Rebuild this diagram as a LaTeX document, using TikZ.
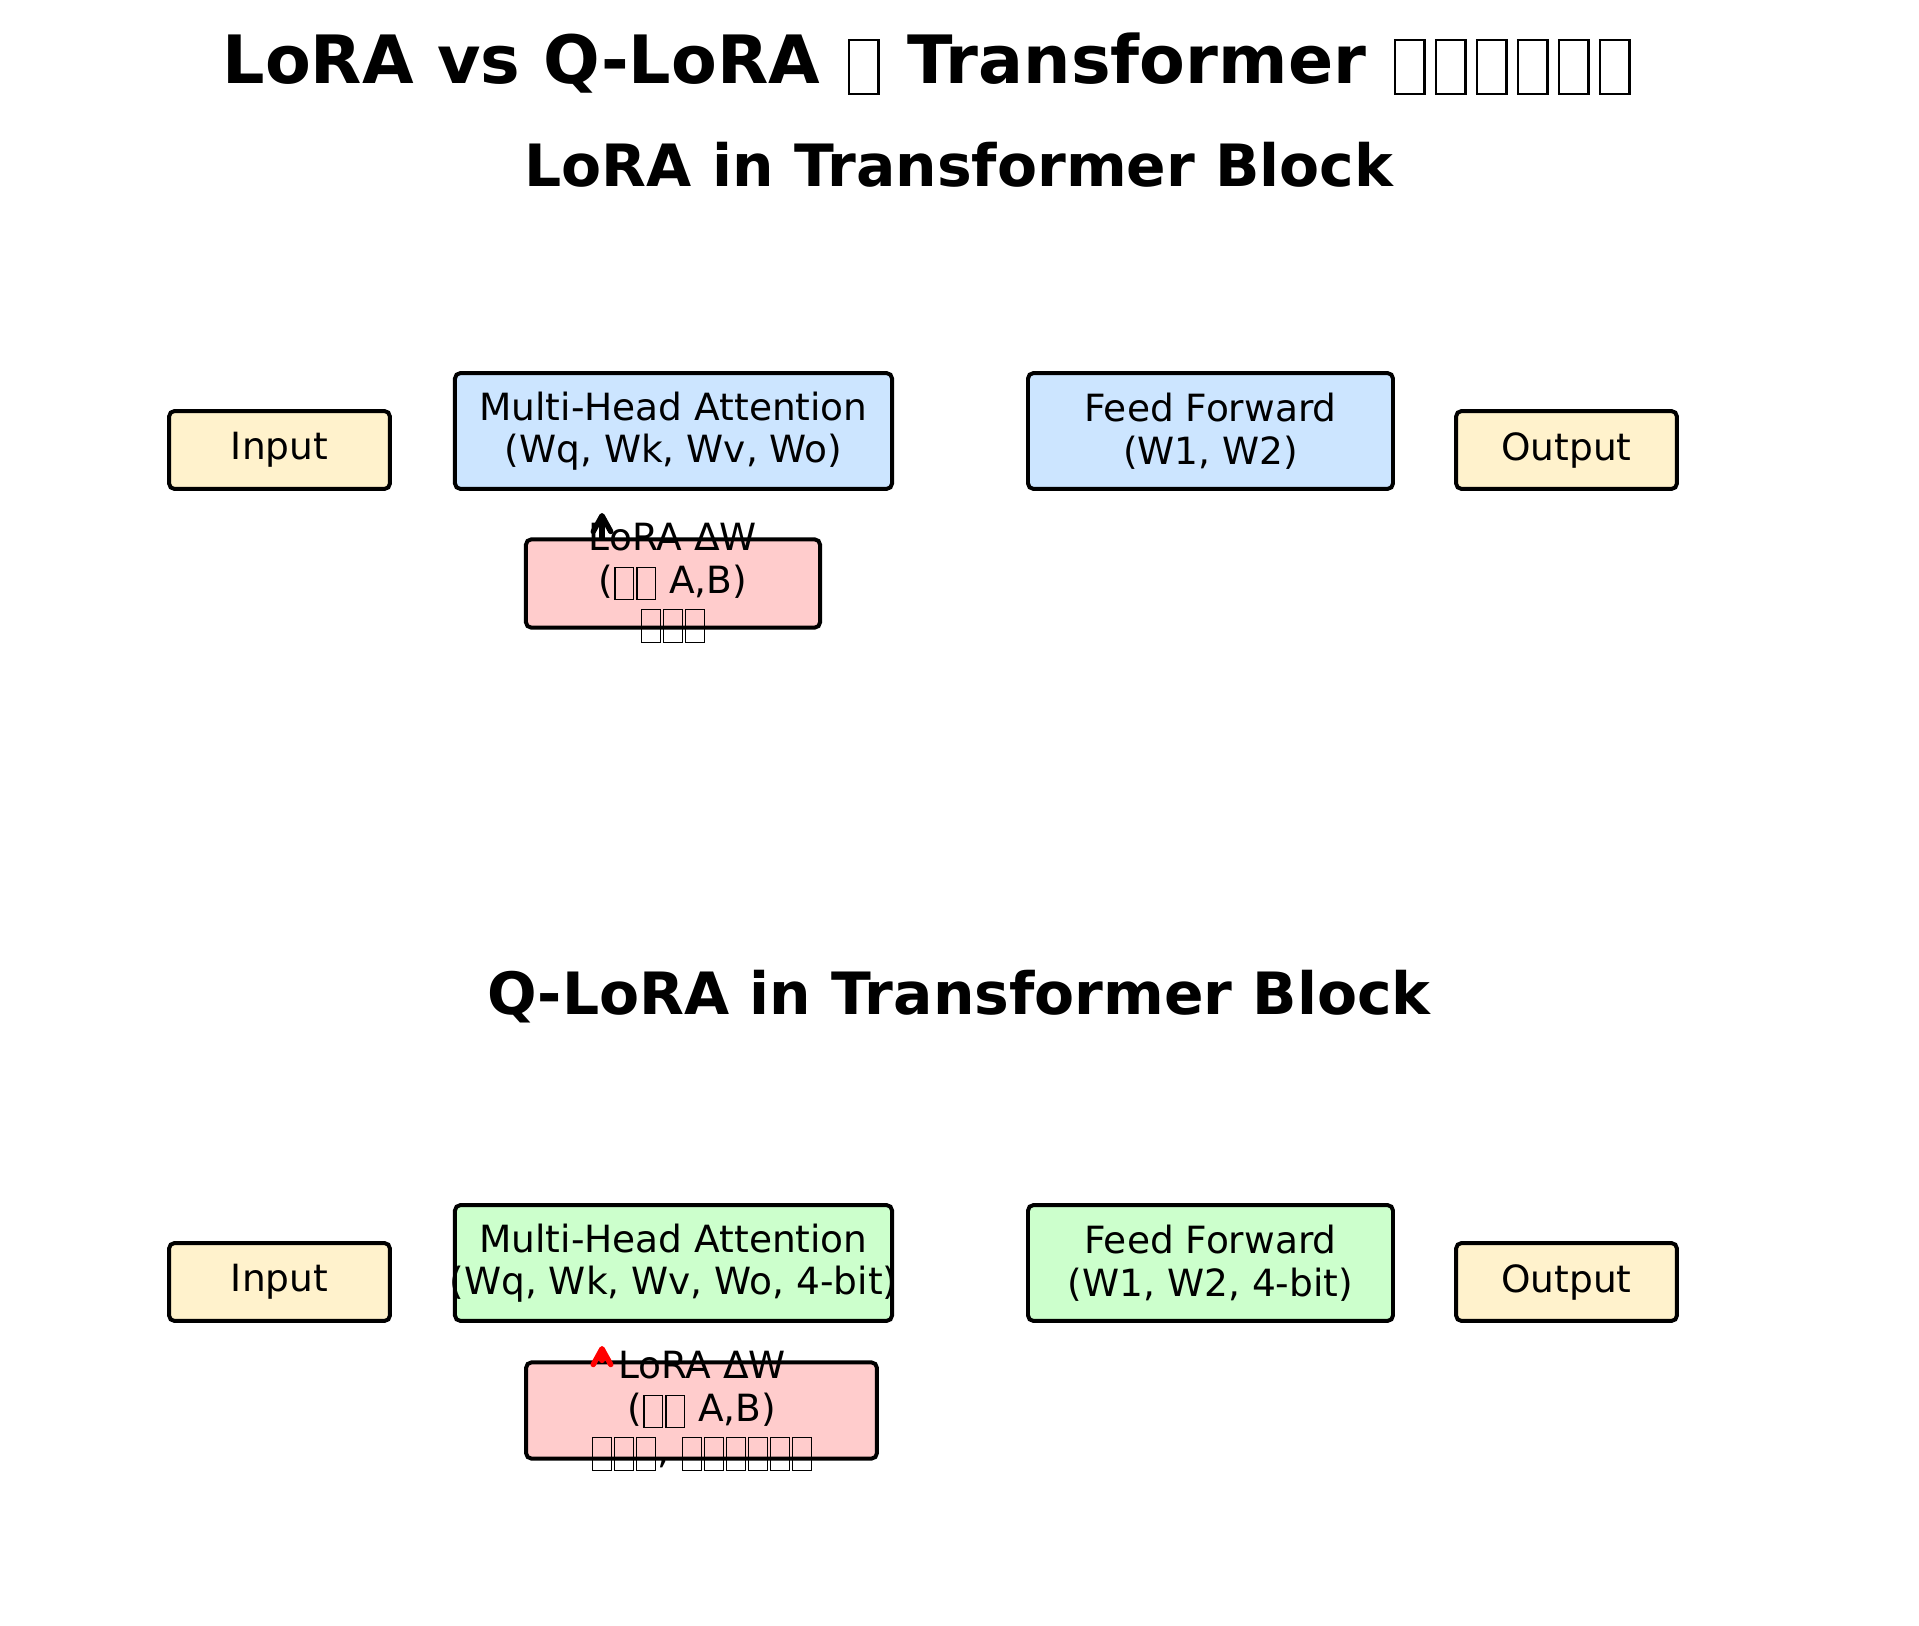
\documentclass[tikz,border=0pt]{standalone}
\usepackage{fontspec}
\setmainfont{DejaVu Sans}
\usetikzlibrary{arrows.meta}
% missing-glyph box as printed by the reference (regular weight)
\newcommand\tofu{{\setlength\fboxsep{0pt}\setlength\fboxrule{0.03em}\kern0.028em\raisebox{-0.16em}{\fbox{\rule{0pt}{0.83em}\hspace{0.47em}}}\kern0.028em}}
% missing-glyph box as printed by the reference (bold title)
\newcommand\tofub{{\setlength\fboxsep{0pt}\setlength\fboxrule{0.035em}\kern0.07em\raisebox{-0.14em}{\fbox{\rule{0pt}{0.77em}\hspace{0.405em}}}\kern0.07em}}
\definecolor{inyel}{HTML}{FFF2CC}
\definecolor{attblue}{HTML}{CCE5FF}
\definecolor{qgreen}{HTML}{CCFFCC}
\definecolor{lorapink}{HTML}{FFCCCC}
\tikzset{
  blk/.style={draw=black, line width=0.95pt, rounded corners=1.3pt, inner sep=0pt},
  iobox/.style={blk, fill=inyel, minimum width=53pt, minimum height=18.7pt},
  attbox/.style={blk, minimum width=104.9pt, minimum height=27.8pt},
  ffbox/.style={blk, minimum width=87.6pt, minimum height=27.8pt},
  lbl/.style={font=\fontsize{9pt}{10.2pt}\selectfont, align=center, inner sep=0pt},
  ttl/.style={font=\fontsize{16pt}{19pt}\selectfont\bfseries, inner sep=0pt},
  subttl/.style={font=\fontsize{14pt}{17pt}\selectfont\bfseries, inner sep=0pt},
  arr/.style={line width=1.3pt, line cap=round, -{Straight Barb[length=3.8pt, width=4.2pt, line cap=round, line join=round]}}
}
\begin{document}
\begin{tikzpicture}[x=0.24pt, y=-0.24pt]
\useasboundingbox (0,0) rectangle (1919,1626);
% titles
\node[ttl, anchor=base] (title) at (929,83.5) {LoRA vs Q-LoRA \tofub{} Transformer \tofub\tofub\tofub\tofub\tofub\tofub};
\node[subttl] (sub1) at (959,165) {LoRA in Transformer Block};
\node[subttl] (sub2) at (959,997) {Q-LoRA in Transformer Block};
% top block
\node[iobox] (in1) at (279.5,450) {};
\node[lbl] (in1t) at (in1.center) {Input};
\node[attbox, fill=attblue] (mha1) at (673.5,431) {};
\node[lbl] (mha1t) at (mha1.center) {Multi-Head Attention\\(Wq, Wk, Wv, Wo)};
\node[ffbox, fill=attblue] (ff1) at (1210.5,431) {};
\node[lbl] (ff1t) at (ff1.center) {Feed Forward\\(W1, W2)};
\node[iobox] (out1) at (1566.5,450) {};
\node[lbl] (out1t) at (out1.center) {Output};
\node[blk, fill=lorapink, minimum width=70.6pt, minimum height=21.2pt] (lora1) at (673,583.5) {};
\coordinate (t1) at (602,513);
\draw[arr, black] (lora1.north -| t1) -- (t1);
\node[lbl] (lora1t) at (673,583) {LoRA ΔW\\(\tofu\tofu{} A,B)\\\tofu\tofu\tofu};
% bottom block
\node[iobox] (in2) at (279.5,1282) {};
\node[lbl] (in2t) at (in2.center) {Input};
\node[attbox, fill=qgreen] (mha2) at (673.5,1263) {};
\node[lbl] (mha2t) at (mha2.center) {Multi-Head Attention\\(Wq, Wk, Wv, Wo, 4-bit)};
\node[ffbox, fill=qgreen] (ff2) at (1210.5,1263) {};
\node[lbl] (ff2t) at (ff2.center) {Feed Forward\\(W1, W2, 4-bit)};
\node[iobox] (out2) at (1566.5,1282) {};
\node[lbl] (out2t) at (out2.center) {Output};
\node[blk, fill=lorapink, minimum width=84.2pt, minimum height=23.1pt] (lora2) at (701.5,1410.5) {};
\coordinate (t2) at (602,1346);
\draw[arr, red] (lora2.north -| t2) -- (t2);
\node[lbl] (lora2t) at (702,1411) {LoRA ΔW\\(\tofu\tofu{} A,B)\\\tofu\tofu\tofu, \tofu\tofu\tofu\tofu\tofu\tofu};
\end{tikzpicture}
\end{document}
